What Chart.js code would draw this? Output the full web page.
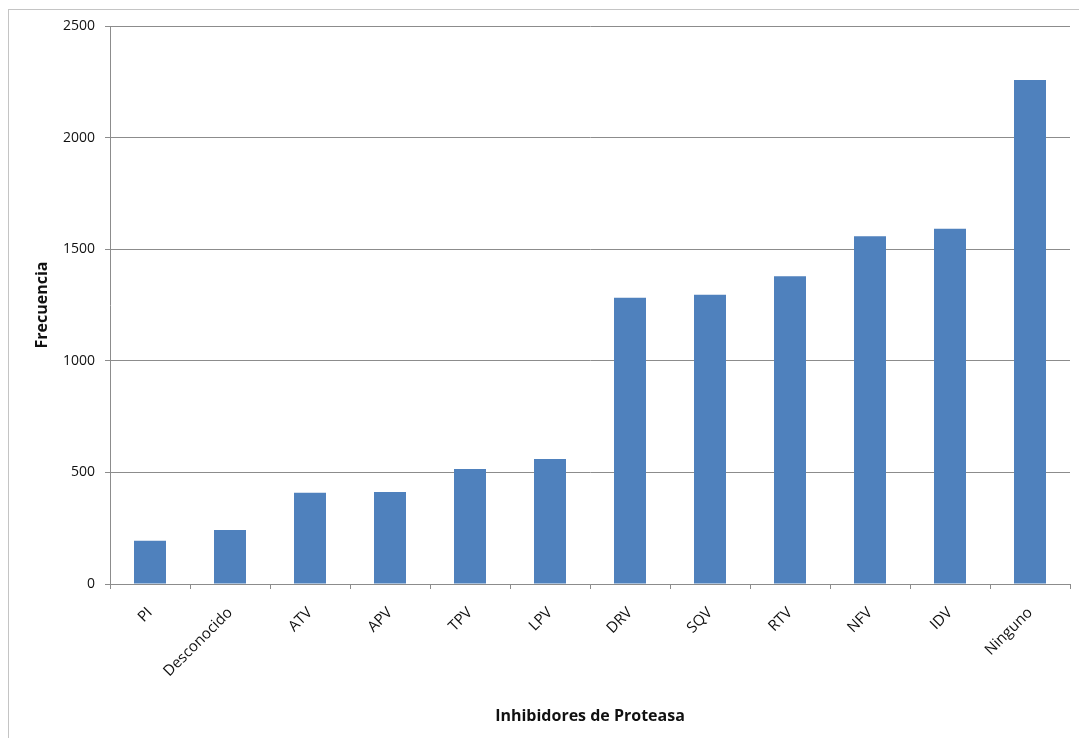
<!DOCTYPE html>
<html>
<head>
<meta charset="utf-8">
<title>Inhibidores de Proteasa</title>
<script src="https://cdn.jsdelivr.net/npm/chart.js@4/dist/chart.umd.min.js"></script>
<style>
  html, body { margin: 0; padding: 0; background: #ffffff; }
  body { width: 1079px; height: 738px; position: relative; overflow: hidden; }
  #frame {
    position: absolute; left: 8px; top: 9px;
    width: 1200px; height: 900px;
    border: 1px solid #c4c4c4;
  }
  #wrap { position: absolute; left: 0; top: 0; width: 1079px; height: 738px; }
</style>
</head>
<body>
<div id="frame"></div>
<div id="wrap"><canvas id="chart" width="1079" height="738"></canvas></div>
<script>
// Categories (protease inhibitors) and their frequencies
const categories = ['PI', 'Desconocido', 'ATV', 'APV', 'TPV', 'LPV', 'DRV', 'SQV', 'RTV', 'NFV', 'IDV', 'Ninguno'];
const frequencies = [194, 242, 409, 412, 515, 560, 1283, 1296, 1379, 1558, 1592, 2258];
const yTicks = [0, 500, 1000, 1500, 2000, 2500];

const xTitle = 'Inhibidores de Proteasa';
const yTitle = 'Frecuencia';

const xTickFont = { family: 'Open Sans', size: 15 };
const yTickFont = { family: 'Open Sans', size: 14 };
const titleFont = { family: 'Open Sans', size: 16, weight: 'bold' };

new Chart(document.getElementById('chart'), {
  type: 'bar',
  data: {
    labels: categories,
    datasets: [{
      data: frequencies,
      backgroundColor: '#4f81bd',
      borderWidth: 0,
      barPercentage: 0.4,
      categoryPercentage: 1.0
    }]
  },
  options: {
    responsive: false,
    animation: false,
    devicePixelRatio: 1,
    layout: { padding: { left: 0, right: 9, top: 26, bottom: 0 } },
    plugins: {
      legend: { display: false },
      tooltip: { enabled: false }
    },
    scales: {
      x: {
        grid: {
          offset: true,
          drawOnChartArea: false,
          drawTicks: true,
          tickLength: 5,
          color: '#8c8c8c'
        },
        border: { color: '#8c8c8c', width: 1 },
        ticks: {
          color: '#111111',
          font: xTickFont,
          minRotation: 45,
          maxRotation: 45,
          padding: 15,
          autoSkip: false
        },
        title: {
          display: true,
          text: xTitle,
          color: '#111111',
          font: titleFont,
          padding: { top: 0, bottom: 12 }
        },
        afterFit: (scale) => { scale.height = 154; }
      },
      y: {
        min: 0,
        max: 2500,
        afterBuildTicks: (scale) => { scale.ticks = yTicks.map(v => ({ value: v })); },
        grid: {
          drawOnChartArea: true,
          drawTicks: true,
          tickLength: 5,
          color: '#8c8c8c'
        },
        border: { color: '#8c8c8c', width: 1 },
        ticks: {
          color: '#111111',
          font: yTickFont,
          padding: 10,
          callback: (v) => String(v)
        },
        title: {
          display: true,
          text: yTitle,
          color: '#111111',
          font: titleFont,
          padding: { top: 33, bottom: 0 }
        },
        afterFit: (scale) => { scale.width = 110; }
      }
    }
  }
});
</script>
</body>
</html>
